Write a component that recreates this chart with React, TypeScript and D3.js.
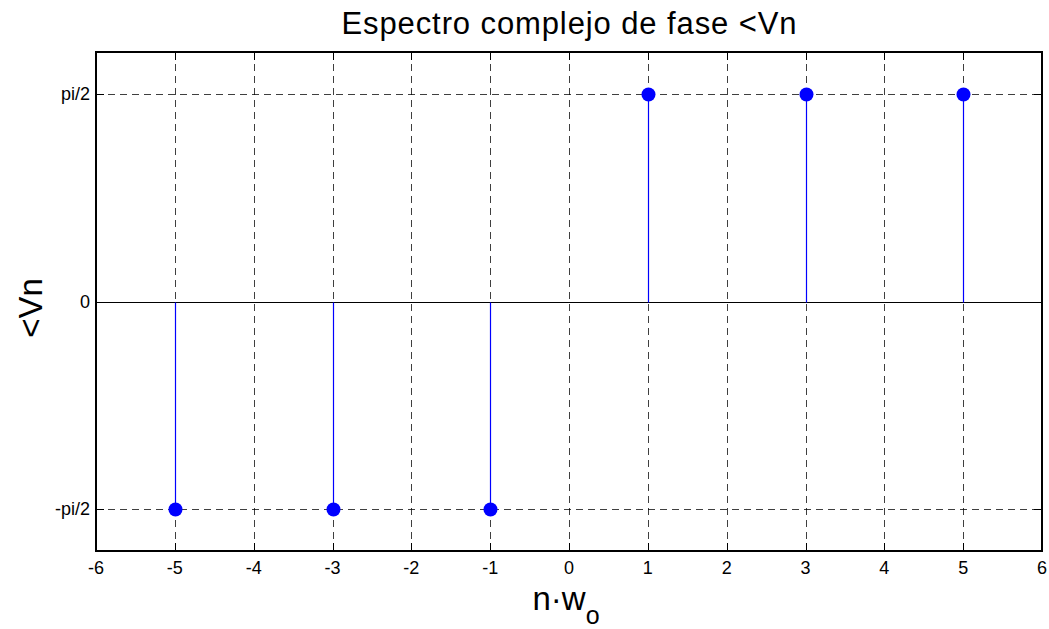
import React from 'react';
import * as d3 from 'd3';

// stem data: harmonic index vs phase (radians)
const harmonics = [-5, -3, -1, 1, 3, 5];
const phases = [-Math.PI / 2, -Math.PI / 2, -Math.PI / 2, Math.PI / 2, Math.PI / 2, Math.PI / 2];

const xTicks = [-6, -5, -4, -3, -2, -1, 0, 1, 2, 3, 4, 5, 6];
const yTicks = [-Math.PI / 2, 0, Math.PI / 2];
const yTickLabels = ['-pi/2', '0', 'pi/2'];

const xDomain = [-6, 6];
const yDomain = [-1.885, 1.885];

const W = 1049;
const H = 629;
const m = { left: 96, right: 7, top: 52, bottom: 78 };

// snap to pixel centre so 1px lines stay crisp
const px = (v: number) => Math.round(v) + 0.5;

const App = () => {
  const x = d3.scaleLinear().domain(xDomain).range([m.left, W - m.right]);
  const y = d3.scaleLinear().domain(yDomain).range([H - m.bottom, m.top]);
  const font = 'Arial, "Liberation Sans", sans-serif';
  const x0 = x.range()[0], x1 = x.range()[1];
  const y0 = y.range()[0], y1 = y.range()[1];

  return (
    <svg width={W} height={H} style={{ position: 'absolute', left: 0, top: 0, background: '#fff' }}>
      <rect x={0} y={0} width={W} height={H} fill="#fff" />
      {/* grid */}
      {xTicks.map(t => (
        <line key={'gx' + t} x1={px(x(t))} x2={px(x(t))} y1={y1} y2={y0}
          stroke="#000" strokeWidth={1} strokeDasharray="7 5" opacity={0.75} />
      ))}
      {yTicks.map((t, i) => (
        <line key={'gy' + i} x1={x0} x2={x1} y1={px(y(t))} y2={px(y(t))}
          stroke="#000" strokeWidth={1} strokeDasharray="7 5" opacity={0.75} />
      ))}
      {/* zero baseline */}
      <line x1={x0} x2={x1} y1={px(y(0))} y2={px(y(0))} stroke="#000" strokeWidth={1} />
      {/* stems */}
      {harmonics.map((n, i) => (
        <g key={'s' + n}>
          <line x1={px(x(n))} x2={px(x(n))} y1={px(y(0))} y2={y(phases[i])} stroke="#0000ff" strokeWidth={1.2} />
          <circle cx={px(x(n))} cy={px(y(phases[i]))} r={7} fill="#0000ff" />
        </g>
      ))}
      {/* ticks */}
      {xTicks.map(t => (
        <g key={'tx' + t}>
          <line x1={px(x(t))} x2={px(x(t))} y1={y0} y2={y0 - 8} stroke="#000" />
          <line x1={px(x(t))} x2={px(x(t))} y1={y1} y2={y1 + 8} stroke="#000" />
          <text x={x(t)} y={574} textAnchor="middle" fontSize={18} fontFamily={font}>{t}</text>
        </g>
      ))}
      {yTicks.map((t, i) => (
        <g key={'ty' + i}>
          <line x1={x0} x2={x0 + 8} y1={px(y(t))} y2={px(y(t))} stroke="#000" />
          <line x1={x1} x2={x1 - 8} y1={px(y(t))} y2={px(y(t))} stroke="#000" />
          <text x={x0 - 6} y={y(t) + 6} textAnchor="end" fontSize={18} fontFamily={font}>{yTickLabels[i]}</text>
        </g>
      ))}
      {/* box */}
      <rect x={x0} y={y1} width={x1 - x0} height={y0 - y1} fill="none" stroke="#000" strokeWidth={2} />
      {/* title */}
      <text x={(x0 + x1) / 2} y={34} textAnchor="middle" fontSize={31} fontFamily={font}
        textLength={455} lengthAdjust="spacing">Espectro complejo de fase &lt;Vn</text>
      {/* axis labels */}
      <text x={566} y={610} textAnchor="middle" fontSize={33} fontFamily={font}>
        n·w<tspan fontSize={25} dy={14}>o</tspan>
      </text>
      <text transform={`translate(42,308) rotate(-90)`} textAnchor="middle" fontSize={33} fontFamily={font}>&lt;Vn</text>
    </svg>
  );
};

export default App;
